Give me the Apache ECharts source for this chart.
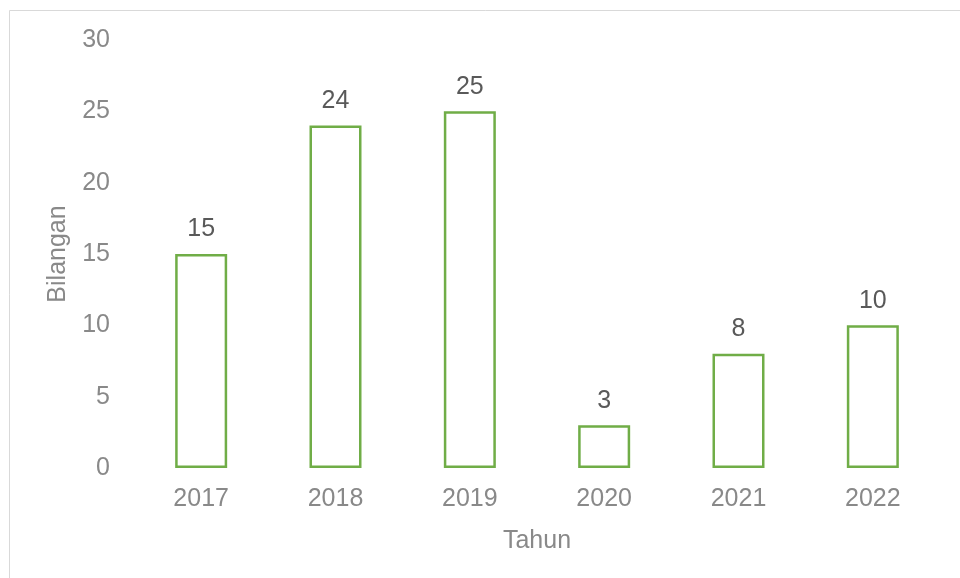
<!DOCTYPE html>
<html><head><meta charset="utf-8">
<script src="https://cdn.jsdelivr.net/npm/echarts@6/dist/echarts.min.js"></script>
<style>html,body{margin:0;padding:0;background:#fff}#c{width:960px;height:578px}</style>
</head><body><div id="c"></div>
<script>
const categories = ['2017','2018','2019','2020','2021','2022'];
const values = [15, 24, 25, 3, 8, 10];
const yTicks = {min: 0, max: 30, interval: 5};
const chart = echarts.init(document.getElementById('c'));
const FONT = 'Liberation Sans';
chart.setOption({
  animation: false,
  backgroundColor: '#fff',
  graphic: [{type:'rect', shape:{x:9.5,y:10.5,width:1200,height:1200}, style:{fill:'none', stroke:'#d9d9d9', lineWidth:1}, silent:true}],
  grid: {left: 134, right: 20, top: 40, bottom: 110},
  xAxis: {
    type: 'category', data: categories,
    name: 'Tahun', nameLocation: 'middle', nameGap: 61,
    nameTextStyle: {color:'#898989', fontSize: 25, fontFamily: FONT},
    axisLine: {show:false}, axisTick: {show:false},
    axisLabel: {color:'#898989', fontSize: 25, margin: 19, fontFamily: FONT}
  },
  yAxis: {
    type: 'value', min: yTicks.min, max: yTicks.max, interval: yTicks.interval,
    name: 'Bilangan', nameLocation: 'middle', nameGap: 63, nameRotate: 90,
    nameTextStyle: {color:'#898989', fontSize: 25, fontFamily: FONT},
    axisLine: {show:false}, axisTick: {show:false}, splitLine: {show:false},
    axisLabel: {color:'#898989', fontSize: 25, margin: 24, fontFamily: FONT}
  },
  series: [{
    type: 'bar', data: values, barWidth: 52,
    itemStyle: {color: '#ffffff', borderColor: '#70ad47', borderWidth: 2.5},
    label: {show: true, position: 'top', distance: 12, color: '#595959', fontSize: 25, fontFamily: FONT}
  }]
});
</script></body></html>
